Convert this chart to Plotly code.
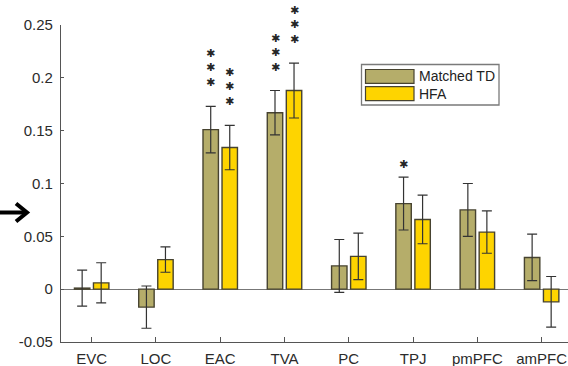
import plotly.graph_objects as go

# Regions of interest and group results (mean +/- SEM)
regions = ["EVC", "LOC", "EAC", "TVA", "PC", "TPJ", "pmPFC", "amPFC"]
series_names = ["Matched TD", "HFA"]
td_mean = [0.001, -0.017, 0.151, 0.167, 0.022, 0.081, 0.075, 0.030]
td_sem = [0.017, 0.020, 0.022, 0.021, 0.025, 0.025, 0.025, 0.022]
hfa_mean = [0.006, 0.028, 0.134, 0.188, 0.031, 0.066, 0.054, -0.012]
hfa_sem = [0.019, 0.012, 0.021, 0.026, 0.022, 0.023, 0.020, 0.024]
td_stars = ["", "", "***", "***", "", "*", "", ""]
hfa_stars = ["", "", "***", "***", "", "", "", ""]
y_ticks = [-0.05, 0, 0.05, 0.1, 0.15, 0.2, 0.25]
y_tick_labels = ["-0.05", "0", "0.05", "0.1", "0.15", "0.2", "0.25"]

# Figure geometry (pixels)
W, H = 568, 366
L, R, T, B = 61, 0, 25, 24
PW, PH = W - L - R, H - T - B

FONT = "Liberation Sans, Arial, sans-serif"
TEXT_COL = "#2b2b2b"
AXIS_COL = "#555555"
EDGE_COL = "#474330"
COLORS = ["#b5ad6a", "#fed400"]

BAR_W = 0.24
CENTERS = [-0.148, 0.148]


def px(x):
    return (x - L) / PW


def py(y):
    return (H - B - y) / PH


fig = go.Figure()
for k, (name, means, sems) in enumerate(
    [(series_names[0], td_mean, td_sem), (series_names[1], hfa_mean, hfa_sem)]
):
    fig.add_trace(go.Bar(
        name=name,
        x=regions,
        y=means,
        width=BAR_W,
        offset=CENTERS[k] - BAR_W / 2,
        marker=dict(color=COLORS[k], line=dict(color=EDGE_COL, width=1.4)),
        error_y=dict(type="data", array=sems, visible=True,
                     color="#333333", thickness=1.2, width=5),
        showlegend=False,
    ))

# Significance asterisks stacked above the error bars (one text block each)
annotations = []
lift = {1: 5, 2: 11, 3: 16}
for k, (stars, means, sems) in enumerate(
    [(td_stars, td_mean, td_sem), (hfa_stars, hfa_mean, hfa_sem)]
):
    for i, s in enumerate(stars):
        n = len(s)
        if n == 0:
            continue
        annotations.append(dict(
            x=i + CENTERS[k], y=means[i] + sems[i], xref="x", yref="y",
            text="<br>".join(["\u2731"] * n), showarrow=False,
            xanchor="center", yanchor="bottom", yshift=lift[n],
            borderpad=0,
            font=dict(family="DejaVu Sans", size=11, color="#262626"),
        ))

# Legend box with wide swatches
shapes = []
shapes.append(dict(type="rect", xref="paper", yref="paper",
                   x0=px(361.5), x1=px(499), y0=py(105), y1=py(64.5),
                   line=dict(color="#7a7a7a", width=1.3), fillcolor="white"))
legend_rows = [(69.5, 83.3), (86.7, 100.7)]
for k, (y0, y1) in enumerate(legend_rows):
    shapes.append(dict(type="rect", xref="paper", yref="paper",
                       x0=px(365.5), x1=px(414), y0=py(y1), y1=py(y0),
                       line=dict(color=EDGE_COL, width=1.2),
                       fillcolor=COLORS[k]))
    annotations.append(dict(
        x=px(416.5), y=py((y0 + y1) / 2), xref="paper", yref="paper",
        text=series_names[k], showarrow=False, xanchor="left",
        yanchor="middle", font=dict(family=FONT, size=14, color="#222222"),
    ))

# Pointer arrow at the left margin
ay = 212.5
shapes.append(dict(type="path", xref="paper", yref="paper",
                   path=f"M {px(0)},{py(ay)} L {px(26)},{py(ay)}",
                   line=dict(color="black", width=4)))
shapes.append(dict(type="path", xref="paper", yref="paper",
                   path=(f"M {px(16)},{py(ay - 9)} L {px(27)},{py(ay)} "
                         f"L {px(16)},{py(ay + 9)}"),
                   line=dict(color="black", width=4)))

fig.update_layout(
    width=W, height=H,
    margin=dict(l=L, r=R, t=T, b=B, pad=0),
    paper_bgcolor="white", plot_bgcolor="white",
    barmode="overlay",
    font=dict(family=FONT, size=15, color=TEXT_COL),
    annotations=annotations,
    shapes=shapes,
    xaxis=dict(
        type="category", categoryorder="array", categoryarray=regions,
        range=[-0.477, 7.41],
        showline=True, linecolor=AXIS_COL, linewidth=1.3,
        ticks="inside", ticklen=5, tickcolor=AXIS_COL, tickwidth=1.3,
        showgrid=False, zeroline=False,
        tickfont=dict(family=FONT, size=15, color=TEXT_COL),
        ticklabelstandoff=3,
    ),
    yaxis=dict(
        range=[-0.05, 0.25], tickvals=y_ticks, ticktext=y_tick_labels,
        showline=True, linecolor=AXIS_COL, linewidth=1.3,
        ticks="inside", ticklen=3, tickcolor=AXIS_COL, tickwidth=1.3,
        showgrid=False,
        zeroline=True, zerolinecolor="#777777", zerolinewidth=1.2,
        tickfont=dict(family=FONT, size=15, color=TEXT_COL),
        ticklabelstandoff=4,
    ),
)

fig.write_html("out.html")
